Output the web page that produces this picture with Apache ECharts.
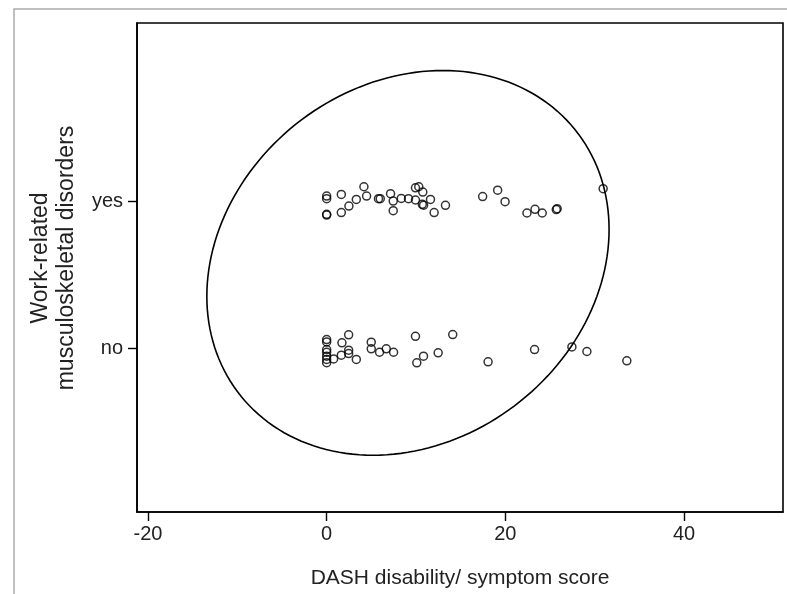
<!DOCTYPE html>
<html>
<head>
<meta charset="utf-8">
<script src="https://cdn.jsdelivr.net/npm/echarts@6/dist/echarts.min.js"></script>
<style>
  html, body { margin: 0; padding: 0; background: #fff; }
  #chart { width: 787px; height: 594px; }
</style>
</head>
<body>
<div id="chart"></div>
<script>
var groupLabels = ['no', 'yes'];
var xTicks = [-20, 0, 20, 40];

// DASH score, jittered group position
var yesPoints = [
    [0, 1.034], [0, 1.016], [0, 0.910], [0, 0.905], [1.64, 1.045], [1.64, 0.922],
    [2.49, 0.966], [3.32, 1.011], [4.17, 1.097], [4.47, 1.034], [5.8, 1.016], [6.0, 1.016],
    [7.15, 1.050], [7.45, 1.000], [7.45, 0.935], [8.35, 1.018], [9.16, 1.016], [9.94, 1.007],
    [9.94, 1.090], [10.31, 1.097], [10.76, 1.061], [10.7, 0.978], [10.85, 0.972], [11.62, 1.011],
    [12.03, 0.922], [13.3, 0.971], [17.46, 1.030], [19.14, 1.074], [19.97, 0.996], [22.42, 0.919],
    [23.32, 0.944], [24.13, 0.919], [25.7, 0.942], [25.8, 0.948], [30.95, 1.084]
];
var noPoints = [
    [0, 0.061], [0, 0.045], [0, -0.007], [0, -0.025], [0, -0.052], [0, -0.074], [0, -0.096],
    [0.78, -0.070], [1.64, -0.045], [1.71, 0.039], [2.46, 0.093], [2.46, -0.011], [2.46, -0.034],
    [3.32, -0.074], [4.99, 0.043], [4.99, -0.002], [5.92, -0.025], [6.67, -0.002], [7.49, -0.025],
    [9.94, 0.083], [10.09, -0.097], [10.84, -0.052], [12.48, -0.029], [14.11, 0.095], [18.07, -0.090],
    [23.27, -0.007], [27.45, 0.011], [29.13, -0.020], [33.6, -0.083]
];

// ellipse: centre, half width / half height, horizontal shear per y unit
var ellipseCenter = [9.1, 0.581];
var ellipseRadii = [22.17, 1.304];
var ellipseShear = 3.0;

var chart = echarts.init(document.getElementById('chart'));

var pointStyle = {
    color: 'rgba(0,0,0,0)',
    borderColor: '#000',
    borderWidth: 1.5
};

var option = {
    animation: false,
    grid: {
        left: 137, right: 4, top: 23, bottom: 81,
        show: true,
        borderColor: '#000',
        borderWidth: 1.6
    },
    xAxis: {
        type: 'value',
        min: -21.23,
        max: 51.08,
        axisLine: { show: true, onZero: false, lineStyle: { color: '#000', width: 1.6 } },
        axisTick: { show: true, customValues: xTicks, length: 9, lineStyle: { color: '#000', width: 1.4 } },
        axisLabel: {
            customValues: xTicks, margin: 12,
            fontFamily: 'Liberation Sans', fontSize: 20, color: '#222'
        },
        splitLine: { show: false },
        name: 'DASH disability/ symptom score',
        nameLocation: 'middle',
        nameGap: 56,
        nameTextStyle: { fontFamily: 'Liberation Sans', fontSize: 21, color: '#222' }
    },
    yAxis: {
        type: 'value',
        min: -1.108,
        max: 2.207,
        axisLine: { show: true, onZero: false, lineStyle: { color: '#000', width: 1.6 } },
        axisTick: { show: true, customValues: [0, 1], length: 9, lineStyle: { color: '#000', width: 1.4 } },
        axisLabel: {
            customValues: [0, 1], margin: 14,
            fontFamily: 'Liberation Sans', fontSize: 20, color: '#222',
            formatter: function (v) { return groupLabels[Math.round(v)]; }
        },
        splitLine: { show: false }
    },
    graphic: [
        {
            type: 'polyline',
            shape: { points: [[14, 594], [14, 9], [787, 9]] },
            style: { stroke: '#aaa', lineWidth: 1.5, fill: 'none' }
        },
        {
            type: 'text',
            x: 54, y: 258,
            rotation: Math.PI / 2,
            style: {
                text: 'Work-related\nmusculoskeletal disorders',
                fontFamily: 'Liberation Sans', fontSize: 23, fill: '#222',
                align: 'center', verticalAlign: 'middle', lineHeight: 26
            }
        }
    ],
    series: [
        {
            type: 'custom',
            data: [[ellipseCenter[0], ellipseCenter[1]]],
            renderItem: function (params, api) {
                var pts = [];
                for (var i = 0; i < 180; i++) {
                    var t = i / 180 * Math.PI * 2;
                    var dy = ellipseRadii[1] * Math.sin(t);
                    var dx = ellipseRadii[0] * Math.cos(t) + ellipseShear * dy;
                    pts.push(api.coord([ellipseCenter[0] + dx, ellipseCenter[1] + dy]));
                }
                return {
                    type: 'polygon',
                    shape: { points: pts },
                    style: { fill: 'none', stroke: '#000', lineWidth: 1.6 }
                };
            },
            silent: true,
            z: 1
        },
        {
            type: 'scatter',
            data: yesPoints,
            symbol: 'circle',
            symbolSize: 8,
            itemStyle: pointStyle,
            z: 2
        },
        {
            type: 'scatter',
            data: noPoints,
            symbol: 'circle',
            symbolSize: 8,
            itemStyle: pointStyle,
            z: 2
        }
    ]
};

chart.setOption(option);
</script>
</body>
</html>
